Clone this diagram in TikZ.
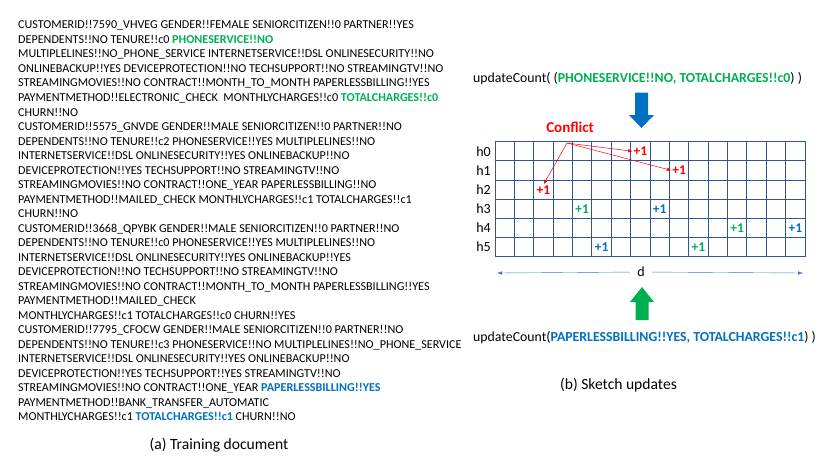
\documentclass[tikz,border=0pt]{standalone}
\usepackage{fontspec}
\setmainfont{Carlito}
\usetikzlibrary{arrows,arrows.meta,positioning}
\definecolor{pgreen}{RGB}{0,176,80}
\definecolor{pblue}{RGB}{0,112,192}
\definecolor{gridblue}{RGB}{47,85,151}
\definecolor{dimblue}{RGB}{68,114,196}
\newcommand{\gtok}[1]{\textcolor{pgreen}{\bfseries #1}}
\newcommand{\btok}[1]{\textcolor{pblue}{\bfseries #1}}

\begin{document}
\begin{tikzpicture}[x=1pt,y=-1pt,>=stealth',
  cell/.style={draw=gridblue,line width=0.9pt,minimum width=19.375pt,minimum height=19.17pt,inner sep=0pt},
  hlab/.style={anchor=east,inner sep=0pt,font=\fontsize{14}{16}\selectfont},
  plus/.style={inner sep=0.5pt,font=\fontsize{13.5}{15}\selectfont\bfseries},
  caption/.style={font=\fontsize{15.6}{18}\selectfont},
  call/.style={anchor=west,inner sep=0pt,font=\fontsize{13.8}{16}\selectfont}]

    \useasboundingbox (0,0) rectangle (830,467);

    % training document
    \node[anchor=north west,inner sep=0pt,align=left,font=\fontsize{12.1}{14.52}\selectfont] (doc) at (18,20.5) {%
CUSTOMERID!!7590\_VHVEG GENDER!!FEMALE SENIORCITIZEN!!0 PARTNER!!YES\\
DEPENDENTS!!NO TENURE!!c0 \gtok{PHONESERVICE!!NO}\\
MULTIPLELINES!!NO\_PHONE\_SERVICE INTERNETSERVICE!!DSL ONLINESECURITY!!NO\\
ONLINEBACKUP!!YES DEVICEPROTECTION!!NO TECHSUPPORT!!NO STREAMINGTV!!NO\\
STREAMINGMOVIES!!NO CONTRACT!!MONTH\_TO\_MONTH PAPERLESSBILLING!!YES\\
PAYMENTMETHOD!!ELECTRONIC\_CHECK \ MONTHLYCHARGES!!c0 \gtok{TOTALCHARGES!!c0}\\
CHURN!!NO\\
CUSTOMERID!!5575\_GNVDE GENDER!!MALE SENIORCITIZEN!!0 PARTNER!!NO\\
DEPENDENTS!!NO TENURE!!c2 PHONESERVICE!!YES MULTIPLELINES!!NO\\
INTERNETSERVICE!!DSL ONLINESECURITY!!YES ONLINEBACKUP!!NO\\
DEVICEPROTECTION!!YES TECHSUPPORT!!NO STREAMINGTV!!NO\\
STREAMINGMOVIES!!NO CONTRACT!!ONE\_YEAR PAPERLESSBILLING!!NO\\
PAYMENTMETHOD!!MAILED\_CHECK MONTHLYCHARGES!!c1 TOTALCHARGES!!c1\\
CHURN!!NO\\
CUSTOMERID!!3668\_QPYBK GENDER!!MALE SENIORCITIZEN!!0 PARTNER!!NO\\
DEPENDENTS!!NO TENURE!!c0 PHONESERVICE!!YES MULTIPLELINES!!NO\\
INTERNETSERVICE!!DSL ONLINESECURITY!!YES ONLINEBACKUP!!YES\\
DEVICEPROTECTION!!NO TECHSUPPORT!!NO STREAMINGTV!!NO\\
STREAMINGMOVIES!!NO CONTRACT!!MONTH\_TO\_MONTH PAPERLESSBILLING!!YES\\
PAYMENTMETHOD!!MAILED\_CHECK\\
MONTHLYCHARGES!!c1 TOTALCHARGES!!c0 CHURN!!YES\\
CUSTOMERID!!7795\_CFOCW GENDER!!MALE SENIORCITIZEN!!0 PARTNER!!NO\\
DEPENDENTS!!NO TENURE!!c3 PHONESERVICE!!NO MULTIPLELINES!!NO\_PHONE\_SERVICE\\
INTERNETSERVICE!!DSL ONLINESECURITY!!YES ONLINEBACKUP!!NO\\
DEVICEPROTECTION!!YES TECHSUPPORT!!YES STREAMINGTV!!NO\\
STREAMINGMOVIES!!NO CONTRACT!!ONE\_YEAR \btok{PAPERLESSBILLING!!YES}\\
PAYMENTMETHOD!!BANK\_TRANSFER\_AUTOMATIC\\
MONTHLYCHARGES!!c1 \btok{TOTALCHARGES!!c1} CHURN!!NO};
    \node[caption] (capa) at (219,445) {(a) Training document};

    % sketch
    \node[call] (upd0) at (473,79) {updateCount( (\gtok{PHONESERVICE!!NO, TOTALCHARGES!!c0}) )};
    \fill[pblue] (635,92.5) -- (648,92.5) -- (648,115) -- (654,115) -- (641.5,128)
      -- (629,115) -- (635,115) -- cycle;

    \foreach \r in {0,...,5}{
      \node[hlab] (h\r) at (491,{151.3+19.17*\r}) {h\r};
      \foreach \c in {0,...,15}
        \node[cell] (c\r-\c) at ({504.7+19.375*\c},{151.3+19.17*\r}) {};
    }

    \node[plus,red] (p0) at (c0-7) {+1};
    \node[plus,red] (p1) at (c1-9) {+1};
    \node[plus,red] (p2) at (c2-2) {+1};
    \node[plus,pgreen] (g0) at (c3-4) {+1};
    \node[plus,pgreen] (g1) at (c4-12) {+1};
    \node[plus,pgreen] (g2) at (c5-10) {+1};
    \node[plus,pblue] (b0) at (c3-8) {+1};
    \node[plus,pblue] (b1) at (c4-15) {+1};
    \node[plus,pblue] (b2) at (c5-5) {+1};

    \node[red,inner sep=0pt,font=\fontsize{15}{17}\selectfont\bfseries] (conf) at (570,127) {Conflict};
    \coordinate (cf) at (567,143);
    \path[red,->,line width=0.5pt,shorten >=1pt]
    (cf) edge (p0.west)
    (cf) edge (p1.west)
    (cf) edge (p2.north)
    ;

    \coordinate (dl) at (497,273);
    \coordinate (dr) at (803,273);
    \node[inner sep=0pt,minimum width=22pt,font=\fontsize{14}{16}\selectfont] (d) at (641,272) {d};
    \draw[dimblue,{Latex[length=5pt,width=3.5pt]}-] (dl) -- (d);
    \draw[dimblue,-{Latex[length=5pt,width=3.5pt]}] (d) -- (dr);

    \fill[pgreen] (635.5,320) -- (648.5,320) -- (648.5,302) -- (654,302) -- (642,287)
      -- (630,302) -- (635.5,302) -- cycle;
    \node[call] (upd1) at (473,338) {updateCount(\btok{PAPERLESSBILLING!!YES, TOTALCHARGES!!c1}) )};
    \node[caption] (capb) at (618.5,385.5) {(b) Sketch updates};
  \end{tikzpicture}
\end{document}
